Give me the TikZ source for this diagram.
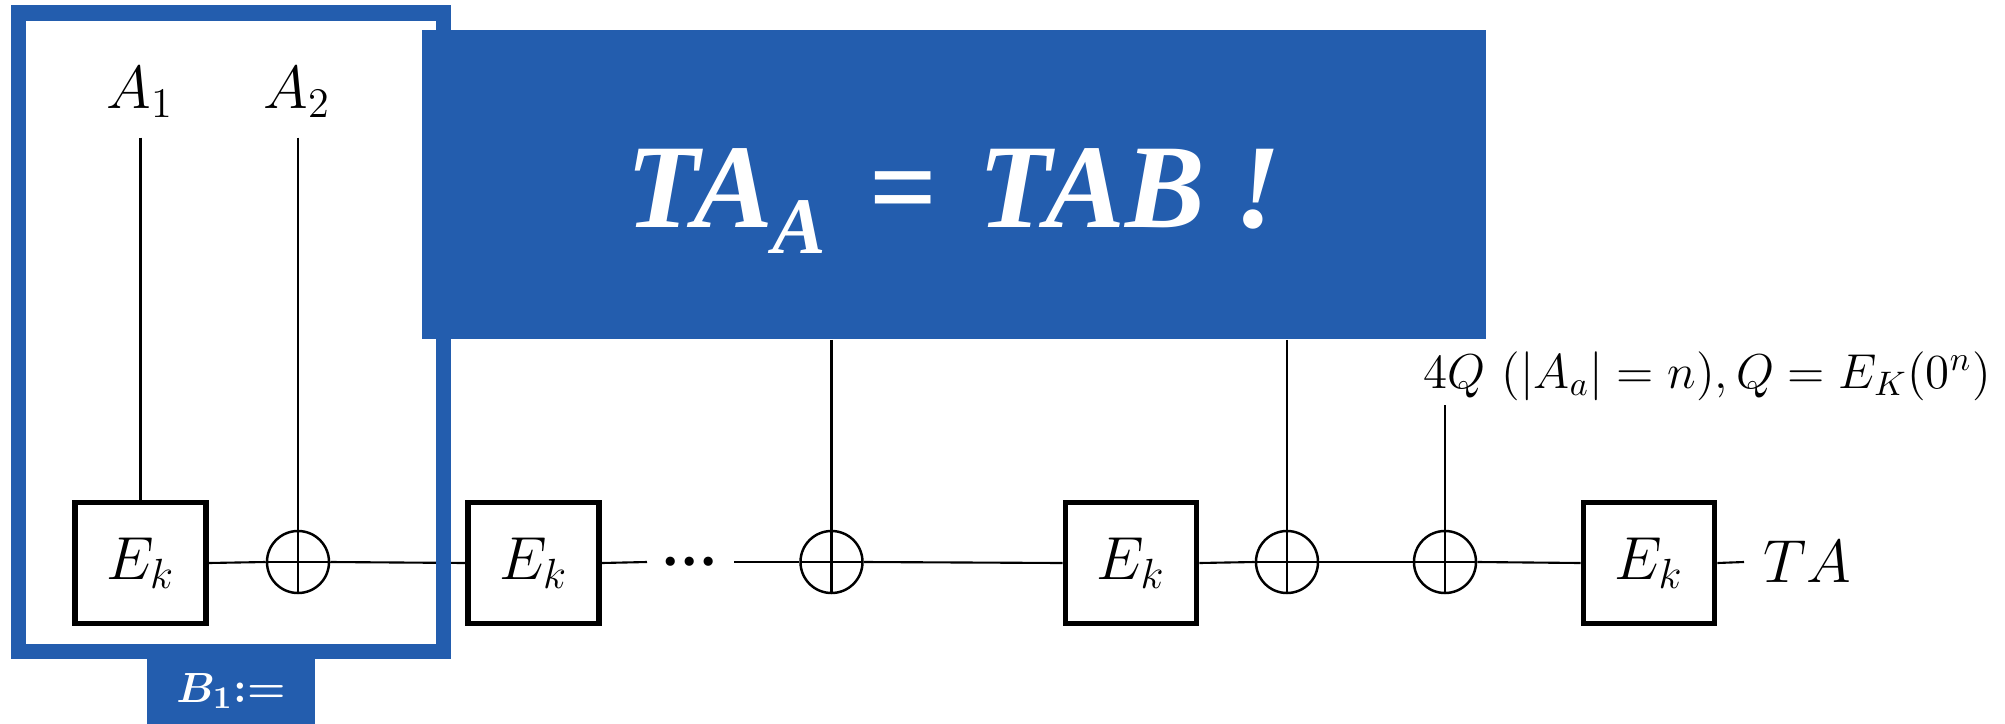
\documentclass[tikz,border=0pt]{standalone}
\usepackage{fontspec}
\usepackage{graphicx}
\usepackage{amsmath}
\usepackage{bm}
\newfontfamily\claimfont{Liberation Serif}
\definecolor{frameblue}{RGB}{35,93,174}
\begin{document}
\begin{tikzpicture}[x=0.01cm,y=-0.01cm,
  wire/.style={line width=0.6pt, black},
  cipher/.style={draw, line width=1.6pt, fill=white, minimum width=1.31cm,
    minimum height=1.21cm, inner sep=0pt, font=\fontsize{17.5}{20}\selectfont},
  xorop/.style={circle, draw, line width=0.7pt, fill=white, minimum size=0.62cm,
    inner sep=0pt,
    path picture={\draw[line width=0.6pt]
      (path picture bounding box.north) -- (path picture bounding box.south)
      (path picture bounding box.west) -- (path picture bounding box.east);}},
  lbl/.style={font=\fontsize{17.5}{20}\selectfont, inner sep=0pt},
]
\useasboundingbox (0,0) rectangle (2005,724);

% chain of block cipher calls and xors
\node[cipher] (e1) at (140.5,563) {$E_k$};
\node[xorop]  (x1) at (298,562) {};
\node[cipher] (e2) at (533.5,563) {$E_k$};
\node[inner sep=0pt, font=\claimfont\bfseries\fontsize{16}{17}\selectfont] (dots) at (690,562) {…};
\node[xorop]  (x2) at (831.5,562) {};
\node[cipher] (e3) at (1131,563) {$E_k$};
\node[xorop]  (x3) at (1287,562) {};
\node[xorop]  (x4) at (1445,562) {};
\node[cipher] (e4) at (1649,563) {$E_k$};
\node[lbl, anchor=west] (ta) at (1763,562) {$TA$};

% inputs
\node[lbl, anchor=base] (a1) at (140,108) {$A_1$};
\node[lbl, anchor=base] (a2) at (297,108) {$A_2$};
\node[font=\fontsize{14.4}{16}\selectfont, inner sep=0pt, anchor=base west] (pad)
  at (1423,388) {\scalebox{0.967}{$4Q\ (|A_a| = n), Q = E_K(0^n)$}};

\coordinate (a1end) at (140.5,137.5);
\coordinate (a2end) at (298,137.5);
\coordinate (padend) at (1445,405);
\coordinate (gapL) at (647,562);
\coordinate (gapR) at (734,562);
\coordinate (tail) at (1744,562);

% main data path
\draw[wire] (e1.east) -- (x1.west);
\draw[wire] (x1.east) -- (e2.west);
\draw[wire] (e2.east) -- (gapL);
\draw[wire] (gapR) -- (x2.west);
\draw[wire] (x2.east) -- (e3.west);
\draw[wire] (e3.east) -- (x3.west);
\draw[wire] (x3.east) -- (x4.west);
\draw[wire] (x4.east) -- (e4.west);
\draw[wire] (e4.east) -- (tail);

% vertical inputs
\draw[wire] (a1end) -- (e1.north);
\draw[wire] (a2end) -- (x1.north);
\draw[wire] (padend) -- (x4.north);

% first block frame and its tab
\draw[frameblue, line width=4.27pt] (18.5,13) rectangle (443.5,651.5);
\fill[frameblue] (147,651) rectangle (315,724);
\node[text=white, inner sep=0pt, font=\fontsize{12.5}{14}\selectfont] (tab) at (231,691) {$\bm{B_1}$\textbf{:=}};

% claim banner
\node[fill=frameblue, minimum width=10.64cm, minimum height=3.09cm, inner sep=0pt]
  (claim) at (954,184.5) {};
\node[text=white, anchor=base west, inner sep=0pt,
  font=\claimfont\bfseries\itshape\fontsize{34}{36}\selectfont]
  (claimtext) at (626,227)
  {TA\raisebox{-7.4pt}{\fontsize{22.8}{24}\selectfont A}\hspace{12pt}=\hspace{12pt}TAB !};

\draw[wire] (x2.center |- claim.south) -- (x2.north);
\draw[wire] (x3.center |- claim.south) -- (x3.north);
\end{tikzpicture}
\end{document}
